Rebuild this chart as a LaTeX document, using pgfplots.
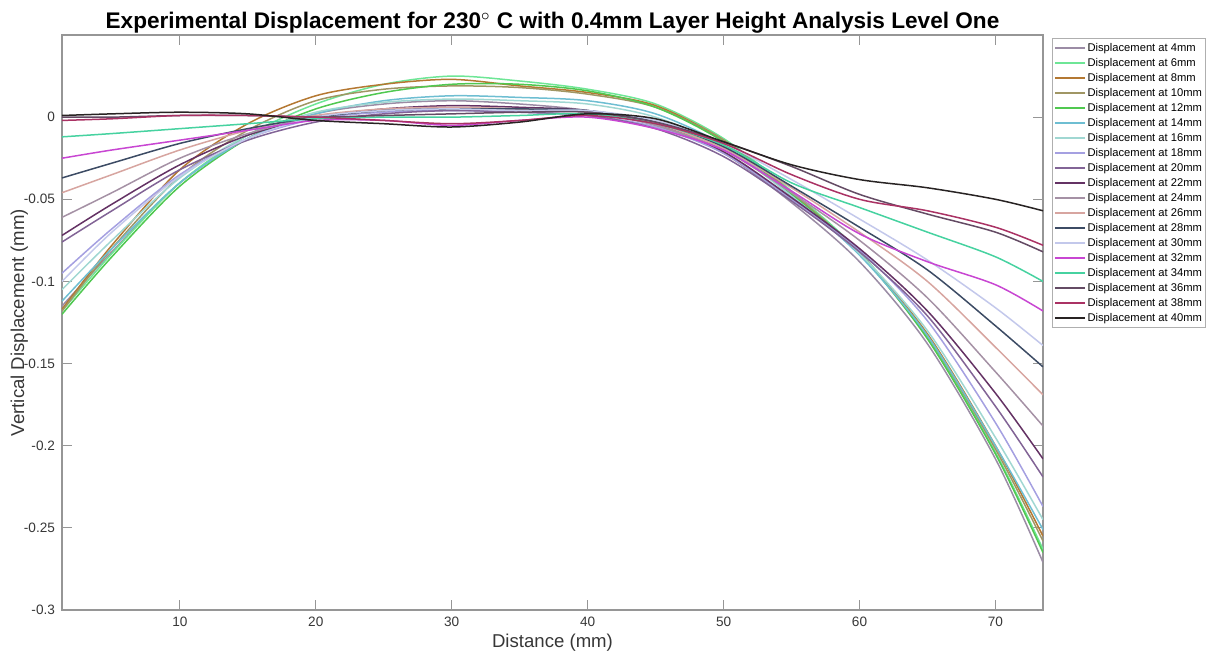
\documentclass[border=0pt]{standalone}
\usepackage{fontspec}
\setmainfont{Liberation Sans}
\usepackage{pgfplots}
\usepackage{pgfplotstable}
\pgfplotsset{compat=1.18}

\definecolor{axisgray}{RGB}{150,150,150}
\definecolor{tickgray}{RGB}{55,55,55}
\definecolor{legendgray}{RGB}{175,175,175}
\definecolor{c4}{RGB}{155,140,165}
\definecolor{c6}{RGB}{110,230,150}
\definecolor{c8}{RGB}{180,120,50}
\definecolor{c10}{RGB}{160,150,100}
\definecolor{c12}{RGB}{80,200,80}
\definecolor{c14}{RGB}{110,190,210}
\definecolor{c16}{RGB}{160,215,210}
\definecolor{c18}{RGB}{165,160,225}
\definecolor{c20}{RGB}{130,100,150}
\definecolor{c22}{RGB}{100,50,100}
\definecolor{c24}{RGB}{165,145,165}
\definecolor{c26}{RGB}{215,165,160}
\definecolor{c28}{RGB}{60,75,100}
\definecolor{c30}{RGB}{195,200,235}
\definecolor{c32}{RGB}{200,70,210}
\definecolor{c34}{RGB}{70,210,160}
\definecolor{c36}{RGB}{100,75,100}
\definecolor{c38}{RGB}{170,50,100}
\definecolor{c40}{RGB}{40,35,35}

% vertical displacement (mm) per measurement position
\pgfplotstableread{
d     s4     s6     s8     s10    s12    s14    s16    s18    s20    s22    s24    s26    s28    s30    s32    s34    s36    s38    s40
1.33 -0.115 -0.118 -0.117 -0.118 -0.120 -0.112 -0.105 -0.095 -0.076 -0.072 -0.061 -0.046 -0.037 -0.100 -0.025 -0.012  0.000 -0.002  0.001
5    -0.082 -0.083 -0.078 -0.080 -0.085 -0.080 -0.075 -0.068 -0.057 -0.053 -0.046 -0.035 -0.028 -0.070 -0.020 -0.010  0.000 -0.001  0.002
10   -0.040 -0.040 -0.032 -0.036 -0.042 -0.040 -0.037 -0.035 -0.032 -0.029 -0.025 -0.020 -0.016 -0.036 -0.014 -0.007  0.001  0.001  0.003
15   -0.013 -0.011 -0.004 -0.008 -0.013 -0.013 -0.011 -0.013 -0.014 -0.011 -0.010 -0.008 -0.007 -0.013 -0.008 -0.004  0.001  0.001  0.002
20    0.002  0.008  0.013  0.010  0.005  0.002  0.003 -0.001 -0.003  0.000  0.000  0.001  0.000  0.000 -0.002 -0.001  0.000  0.000 -0.002
25    0.008  0.020  0.020  0.017  0.015  0.010  0.009  0.003  0.002  0.005  0.004  0.005  0.004  0.004 -0.002  0.000  0.001 -0.002 -0.004
30    0.010  0.025  0.023  0.019  0.020  0.013  0.011  0.004  0.004  0.007  0.006  0.006  0.005  0.005 -0.005  0.000  0.002 -0.004 -0.006
35    0.008  0.022  0.019  0.018  0.020  0.012  0.010  0.003  0.003  0.006  0.005  0.005  0.005  0.004 -0.002  0.001  0.003 -0.002 -0.003
40    0.004  0.017  0.015  0.014  0.016  0.010  0.008  0.001  0.001  0.004  0.003  0.003  0.004  0.004  0.000  0.002  0.003  0.001  0.002
45   -0.005  0.008  0.007  0.006  0.006  0.002  0.000 -0.006 -0.007 -0.004 -0.005 -0.004 -0.003 -0.002 -0.007 -0.004 -0.003 -0.004 -0.001
50   -0.022 -0.013 -0.014 -0.014 -0.015 -0.017 -0.018 -0.022 -0.024 -0.021 -0.020 -0.019 -0.018 -0.016 -0.020 -0.017 -0.015 -0.016 -0.015
55   -0.052 -0.045 -0.046 -0.046 -0.047 -0.048 -0.048 -0.050 -0.051 -0.049 -0.046 -0.043 -0.042 -0.038 -0.045 -0.040 -0.030 -0.035 -0.029
60   -0.088 -0.082 -0.083 -0.083 -0.083 -0.084 -0.083 -0.081 -0.082 -0.080 -0.075 -0.070 -0.067 -0.062 -0.071 -0.055 -0.047 -0.050 -0.038
65   -0.138 -0.134 -0.132 -0.133 -0.135 -0.133 -0.130 -0.124 -0.121 -0.118 -0.110 -0.100 -0.093 -0.087 -0.088 -0.070 -0.059 -0.057 -0.043
70   -0.208 -0.204 -0.200 -0.202 -0.205 -0.200 -0.195 -0.186 -0.176 -0.168 -0.155 -0.140 -0.127 -0.116 -0.102 -0.085 -0.070 -0.067 -0.050
73.5 -0.271 -0.263 -0.255 -0.258 -0.265 -0.251 -0.245 -0.237 -0.219 -0.208 -0.188 -0.169 -0.152 -0.139 -0.118 -0.100 -0.082 -0.078 -0.057
}\disp

\begin{document}
\begin{tikzpicture}
\useasboundingbox (-31pt,-22.5pt) rectangle (573.5pt,305pt);
\begin{axis}[
    at={(0,0)}, anchor=south west,
    scale only axis,
    width=490.5pt, height=287.5pt,
    xmin=1.33, xmax=73.5,
    ymin=-0.3, ymax=0.05,
    xtick={10,20,30,40,50,60,70},
    ytick={-0.3,-0.25,-0.2,-0.15,-0.1,-0.05,0},
    yticklabels={-0.3,-0.25,-0.2,-0.15,-0.1,-0.05,0},
    /pgf/number format/assume math mode=true,
    tick align=inside, tick pos=both,
    major tick length=4.9pt,
    axis line style={axisgray, line width=0.6pt},
    every tick/.style={axisgray, line width=0.5pt},
    ticklabel style={font=\fontsize{6.8}{8}\selectfont, text=tickgray},
    title={Experimental Displacement for 230$^\circ$ C with 0.4mm Layer Height Analysis Level One},
    title style={font=\fontsize{11.3}{13}\selectfont\bfseries, at={(axis description cs:0.5,1)}, anchor=base, yshift=-2.5pt},
    xlabel={Distance (mm)},
    xlabel style={font=\fontsize{9.3}{11}\selectfont, text=tickgray, at={(axis description cs:0.5,-0.066)}, anchor=base},
    ylabel={Vertical Displacement (mm)},
    ylabel style={font=\fontsize{9.3}{11}\selectfont, text=tickgray, at={(axis description cs:-0.0385,0.5)}, anchor=base, rotate=0},
    legend style={at={(1,1)}, anchor=north west, xshift=4.5pt, yshift=-1.5pt,
        draw=legendgray, font=\fontsize{5.6}{6}\selectfont, inner sep=1pt,
        nodes={inner sep=0.8pt, text height=4.5pt, text depth=1.4pt},
        row sep=0pt},
    legend cell align=left,
    legend image code/.code={\draw[#1] (0pt,0pt) -- (15pt,0pt);},
    every axis plot/.append style={smooth, line width=0.75pt},
]
\addplot[c4]  table[x=d, y=s4]  {\disp}; \addlegendentry{Displacement at 4mm}
\addplot[c6]  table[x=d, y=s6]  {\disp}; \addlegendentry{Displacement at 6mm}
\addplot[c8]  table[x=d, y=s8]  {\disp}; \addlegendentry{Displacement at 8mm}
\addplot[c10] table[x=d, y=s10] {\disp}; \addlegendentry{Displacement at 10mm}
\addplot[c12] table[x=d, y=s12] {\disp}; \addlegendentry{Displacement at 12mm}
\addplot[c14] table[x=d, y=s14] {\disp}; \addlegendentry{Displacement at 14mm}
\addplot[c16] table[x=d, y=s16] {\disp}; \addlegendentry{Displacement at 16mm}
\addplot[c18] table[x=d, y=s18] {\disp}; \addlegendentry{Displacement at 18mm}
\addplot[c20] table[x=d, y=s20] {\disp}; \addlegendentry{Displacement at 20mm}
\addplot[c22] table[x=d, y=s22] {\disp}; \addlegendentry{Displacement at 22mm}
\addplot[c24] table[x=d, y=s24] {\disp}; \addlegendentry{Displacement at 24mm}
\addplot[c26] table[x=d, y=s26] {\disp}; \addlegendentry{Displacement at 26mm}
\addplot[c28] table[x=d, y=s28] {\disp}; \addlegendentry{Displacement at 28mm}
\addplot[c30] table[x=d, y=s30] {\disp}; \addlegendentry{Displacement at 30mm}
\addplot[c32] table[x=d, y=s32] {\disp}; \addlegendentry{Displacement at 32mm}
\addplot[c34] table[x=d, y=s34] {\disp}; \addlegendentry{Displacement at 34mm}
\addplot[c36] table[x=d, y=s36] {\disp}; \addlegendentry{Displacement at 36mm}
\addplot[c38] table[x=d, y=s38] {\disp}; \addlegendentry{Displacement at 38mm}
\addplot[c40] table[x=d, y=s40] {\disp}; \addlegendentry{Displacement at 40mm}
\end{axis}
\end{tikzpicture}
\end{document}
